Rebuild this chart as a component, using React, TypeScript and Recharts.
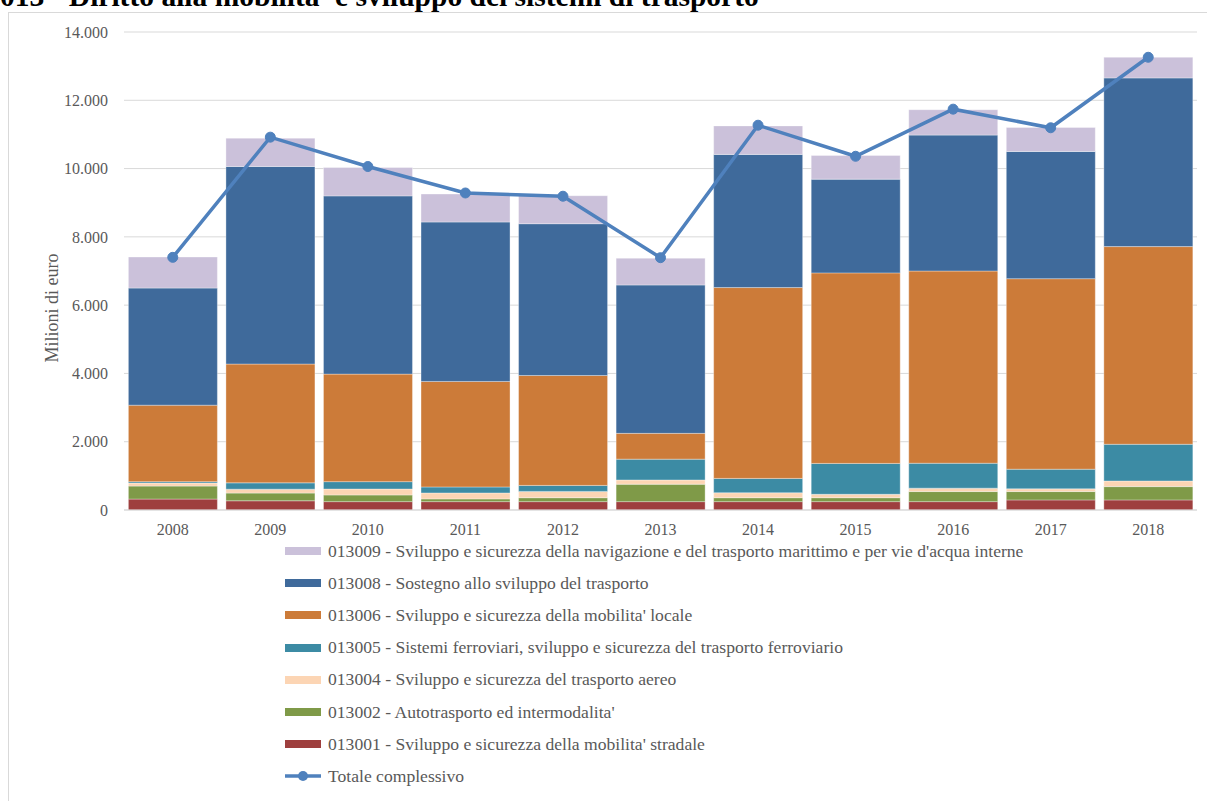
import React from 'react';
import { ComposedChart, Bar, Line, XAxis, YAxis, CartesianGrid, Label } from 'recharts';

const years = ['2008', '2009', '2010', '2011', '2012', '2013', '2014', '2015', '2016', '2017', '2018'];
const s013001 = [320, 270, 245, 245, 245, 245, 245, 245, 245, 295, 295];
const s013002 = [380, 225, 195, 80, 115, 510, 115, 115, 295, 245, 390];
const s013004 = [90, 115, 175, 175, 185, 125, 145, 100, 100, 80, 165];
const s013005 = [40, 185, 215, 175, 175, 610, 420, 905, 730, 575, 1075];
const s013006 = [2240, 3480, 3150, 3090, 3220, 755, 5590, 5580, 5630, 5580, 5790];
const s013008 = [3430, 5785, 5220, 4670, 4445, 4345, 3900, 2745, 3980, 3725, 4940];
const s013009 = [910, 830, 830, 820, 820, 785, 835, 695, 745, 705, 605];
const totale = [7400, 10920, 10060, 9285, 9190, 7390, 11270, 10360, 11740, 11195, 13260];
const yTicks = [0, 2000, 4000, 6000, 8000, 10000, 12000, 14000];

const seriesInfo = [
  { key: 's013001', name: "013001 - Sviluppo e sicurezza della mobilita' stradale", color: '#9E3F3E', values: s013001 },
  { key: 's013002', name: "013002 - Autotrasporto ed intermodalita'", color: '#7F9A48', values: s013002 },
  { key: 's013004', name: '013004 - Sviluppo e sicurezza del trasporto aereo', color: '#FCD5B4', values: s013004 },
  { key: 's013005', name: '013005 - Sistemi ferroviari, sviluppo e sicurezza del trasporto ferroviario', color: '#3C8BA4', values: s013005 },
  { key: 's013006', name: "013006 - Sviluppo e sicurezza della mobilita' locale", color: '#CC7B39', values: s013006 },
  { key: 's013008', name: '013008 - Sostegno allo sviluppo del trasporto', color: '#3F6A9B', values: s013008 },
  { key: 's013009', name: "013009 - Sviluppo e sicurezza della navigazione e del trasporto marittimo e per vie d'acqua interne", color: '#CBC1DA', values: s013009 },
];

const data = years.map((y, i) => {
  const row: Record<string, number | string> = { year: y, totale: totale[i] };
  seriesInfo.forEach((s) => { row[s.key] = s.values[i]; });
  return row;
});

const FONT = '"Liberation Serif", "Times New Roman", serif';
const GRAY = '#595959';

const fmt = (v: number) => (v === 0 ? '0' : `${Math.floor(v / 1000)}.${String(v % 1000).padStart(3, '0')}`);

export default function App() {
  const legendItems = [...seriesInfo].reverse();
  return (
    <div style={{ position: 'fixed', left: 0, top: 0, width: 1207, height: 801, overflow: 'hidden', background: '#fff', fontFamily: FONT }}>
      <div style={{ position: 'absolute', left: 0, top: -19.5, fontSize: 29.5, fontWeight: 'bold', color: '#000', whiteSpace: 'nowrap', lineHeight: '30px' }}>
        013 - Diritto alla mobilita' e sviluppo dei sistemi di trasporto
      </div>
      <div style={{ position: 'absolute', left: 8, top: 12, width: 1210, height: 800, border: '1px solid #d9d9d9', boxSizing: 'border-box' }} />
      <div style={{ position: 'absolute', left: 0, top: 0 }}>
        <ComposedChart width={1207} height={560} data={data} margin={{ top: 32, right: 10, bottom: 10, left: 0 }} barCategoryGap="4.5%">
          <CartesianGrid vertical={false} stroke="#d9d9d9" strokeWidth={1} />
          <XAxis dataKey="year" axisLine={{ stroke: '#d9d9d9' }} tickLine={false} tickSize={0} tickMargin={14} height={40}
            tick={{ fill: GRAY, fontSize: 16, fontFamily: FONT }} />
          <YAxis domain={[0, 14000]} ticks={yTicks} tickFormatter={fmt} axisLine={false} tickLine={false} tickSize={0} tickMargin={16} width={124}
            tick={{ fill: GRAY, fontSize: 16, fontFamily: FONT }}>
            <Label content={() => (
              <text x={54} y={308} transform="rotate(-90 54 308)" textAnchor="middle" dominantBaseline="middle" fill={GRAY} fontSize={18} fontFamily={FONT}>
                Milioni di euro
              </text>
            )} />
          </YAxis>
          {seriesInfo.map((s) => (
            <Bar key={s.key} dataKey={s.key} name={s.name} stackId="a" fill={s.color} stroke="#ffffff" strokeOpacity={0.45} strokeWidth={0.75} isAnimationActive={false} />
          ))}
          <Line type="linear" dataKey="totale" name="Totale complessivo" stroke="#4F81BD" strokeWidth={3.5}
            dot={{ r: 5, fill: '#4F81BD', stroke: '#4F81BD', strokeWidth: 1 }} activeDot={false} isAnimationActive={false} />
        </ComposedChart>
      </div>
      <div style={{ position: 'absolute', left: 285, top: 535, color: GRAY, fontSize: 17.6 }}>
        {legendItems.map((s) => (
          <div key={s.key} style={{ height: 32.2, display: 'flex', alignItems: 'center', whiteSpace: 'nowrap' }}>
            <span style={{ display: 'inline-block', width: 36, height: 8, background: s.color, marginRight: 7 }} />
            <span>{s.name}</span>
          </div>
        ))}
        <div style={{ height: 32.2, display: 'flex', alignItems: 'center', whiteSpace: 'nowrap' }}>
          <svg width={36} height={12} style={{ marginRight: 7 }}>
            <line x1={0} y1={6} x2={36} y2={6} stroke="#4F81BD" strokeWidth={3.5} />
            <circle cx={18} cy={6} r={5} fill="#4F81BD" />
          </svg>
          <span>Totale complessivo</span>
        </div>
      </div>
    </div>
  );
}
